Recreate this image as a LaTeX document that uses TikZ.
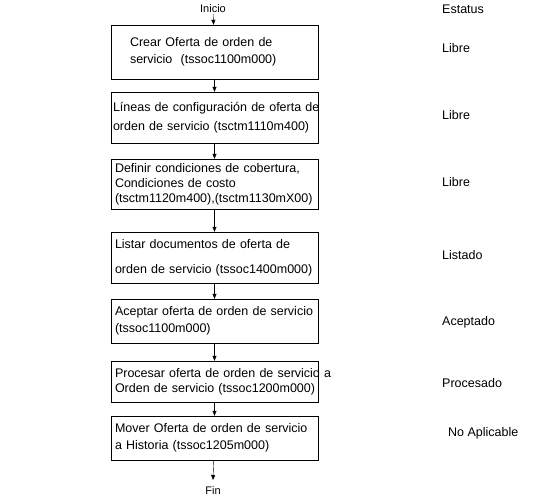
\documentclass[tikz,border=0pt]{standalone}
\usepackage{fontspec}
\setmainfont{Liberation Sans}
\usetikzlibrary{positioning, arrows.meta}

\begin{document}
\begin{tikzpicture}[x=1pt, y=-1pt,
    paso/.style={draw, rectangle, minimum width=207pt, text width=199pt, inner xsep=4pt, align=left, font=\fontsize{12.5}{15}\selectfont},
    estado/.style={anchor=west, inner sep=0pt, font=\fontsize{12.5}{15}\selectfont},
    extremo/.style={inner sep=1pt, font=\fontsize{11}{12}\selectfont},
    flecha/.style={-{Triangle[length=5pt, width=4pt]}}]
    \useasboundingbox (0,0) rectangle (544,499);

    % Pasos
    \node[extremo] (inicio) at (213, 9) {Inicio};
    \node[paso, minimum height=54pt] (crear) at (214.5, 52) {\hspace*{15pt}Crear Oferta de orden de\\[2pt]\hspace*{15pt}servicio\ \ (tssoc1100m000)};
    \node[paso, minimum height=51pt, inner xsep=2pt, text width=203pt] (lineas) at (214.5, 117.5) {\mbox{Líneas de configuración de oferta de}\\[4pt]orden de servicio (tsctm1110m400)};
    \node[paso, minimum height=50pt] (definir) at (214.5, 184) {Definir condiciones de cobertura,\\Condiciones de costo\\\mbox{(tsctm1120m400),(tsctm1130mX00)}};
    \node[paso, minimum height=51pt] (listar) at (214.5, 257.5) {Listar documentos de oferta de\\[10pt]orden de servicio (tssoc1400m000)};
    \node[paso, minimum height=44pt] (aceptar) at (214.5, 321) {Aceptar oferta de orden de servicio\\[2pt](tssoc1100m000)};
    \node[paso, minimum height=41pt] (procesar) at (214.5, 381.5) {\mbox{Procesar oferta de orden de servicio a}\\\mbox{Orden de servicio (tssoc1200m000)}};
    \node[paso, minimum height=44pt] (mover) at (214.5, 438) {Mover Oferta de orden de servicio\\[2pt]a Historia (tssoc1205m000)};
    \node[extremo] (fin) at (213, 491) {Fin};
    \coordinate (finpunta) at (213, 480);

    % Conexiones
    \draw[flecha] (inicio) -- (crear);
    \draw[flecha] (crear) -- (lineas);
    \draw[flecha] (lineas) -- (definir);
    \draw[flecha] (definir) -- (listar);
    \draw[flecha] (listar) -- (aceptar);
    \draw[flecha] (aceptar) -- (procesar);
    \draw[flecha] (procesar) -- (mover);
    \draw[flecha] (mover) -- (finpunta);

    % Estatus
    \node[estado] (estatus) at (442, 9) {Estatus};
    \node[estado] (e_crear) at (442, 48) {Libre};
    \node[estado] (e_lineas) at (442, 115) {Libre};
    \node[estado] (e_definir) at (442, 182) {Libre};
    \node[estado] (e_listar) at (442, 255) {Listado};
    \node[estado] (e_aceptar) at (442, 322) {Aceptado};
    \node[estado] (e_procesar) at (442, 383) {Procesado};
    \node[estado] (e_mover) at (448, 433) {No Aplicable};
\end{tikzpicture}
\end{document}
